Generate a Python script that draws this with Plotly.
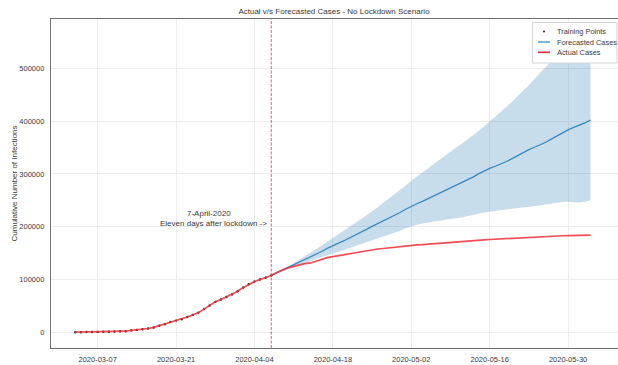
import pandas as pd
import plotly.graph_objects as go

# ---- data ----
actual_start = "2020-03-03"
actual_cases = [
    196, 262, 482, 670, 799, 1040, 1176, 1457, 1908, 2078,
    3675, 4585, 5795, 7272, 9257, 12327, 15320, 19848, 22213, 24873,
    29056, 32986, 37323, 43938, 50871, 57695, 62095, 66885, 71808, 77872,
    84794, 91159, 96092, 100123, 103374, 107663, 113296, 118181, 122171, 124908,
    127854, 130072, 131359, 134753, 137698, 141397, 143342, 145184, 147065, 148291,
    150648, 153129, 154999, 156513, 157770, 158758, 159912, 161539, 163009, 164077,
    164967, 165664, 166152, 167007, 168162, 169430, 170588, 171324, 171879, 172576,
    173171, 174098, 174478, 175233, 175752, 176369, 176551, 177778, 178473, 179021,
    179710, 179986, 180328, 180600, 181200, 181524, 182196, 182922, 183189, 183410,
    183594, 183879, 184121,
]
n_training = 36  # 2020-03-03 .. 2020-04-07

forecast_start = "2020-04-07"
forecast_mean = [
    108000, 113000, 118000, 122500, 127000, 132000, 137000, 142000, 147500, 153000,
    159000, 164500, 169000, 173500, 178500, 184000, 189500, 195000, 200500, 205500,
    210500, 215500, 221000, 227000, 233000, 239000, 243500, 248000, 253000, 258500,
    264000, 269500, 274500, 278500, 283000, 288000, 294000, 300000, 305500, 310500,
    314500, 318500, 323500, 329000, 335000, 341000, 346000, 350500, 355000, 360000,
    366000, 372000, 378000, 383500, 388000, 392000, 396500, 402000,
]
forecast_upper = [
    108000, 113500, 119000, 124500, 131000, 137500, 144000, 150500, 157000, 164000,
    172000, 179500, 186000, 193000, 200000, 207000, 214000, 221500, 229000, 237000,
    245000, 253000, 261000, 269500, 278000, 287000, 295000, 303000, 311000, 319000,
    327000, 335000, 343000, 350000, 357000, 364500, 372500, 381000, 390000, 399000,
    408000, 417000, 427000, 437000, 447000, 457000, 468000, 480000, 492000, 504000,
    514000, 523000, 531000, 539000, 546000, 552000, 558000, 565000,
]
forecast_lower = [
    108000, 112000, 116000, 119500, 123000, 127000, 131000, 135000, 139000, 142500,
    146000, 149000, 152500, 156000, 159500, 163000, 167000, 171000, 174500, 178000,
    181500, 185000, 188500, 192500, 197000, 201000, 203500, 206000, 208000, 210000,
    211500, 213000, 214500, 215500, 217500, 220000, 222500, 225000, 227000, 228500,
    229500, 231000, 232500, 234000, 235000, 236000, 237000, 238500, 240000, 242000,
    244000, 245500, 247000, 247500, 247000, 246000, 247500, 250000,
]
lockdown_date = "2020-04-07"
x_ticks = ["2020-03-07", "2020-03-21", "2020-04-04", "2020-04-18",
           "2020-05-02", "2020-05-16", "2020-05-30"]
y_ticks = [0, 100000, 200000, 300000, 400000, 500000]
legend_labels = ["Training Points", "Forecasted Cases", "Actual Cases"]

actual_dates = pd.date_range(actual_start, periods=len(actual_cases), freq="D")
forecast_dates = pd.date_range(forecast_start, periods=len(forecast_mean), freq="D")
train_dates = actual_dates[:n_training]
train_vals = actual_cases[:n_training]

FONT = "Liberation Sans, Arial, sans-serif"
TXT = "#383838"
BLUE = "#3b88bd"
RED = "#ef2f3a"

W, H = 618, 365
ML, MR, MT, MB = 51, 0, 19, 17
PW, PH = W - ML - MR, H - MT - MB


def px(xp):
    return (xp - ML) / PW


def py(yp):
    return (H - MB - yp) / PH


fig = go.Figure()

# confidence band
fig.add_trace(go.Scatter(x=forecast_dates, y=forecast_upper, mode="lines",
                         line=dict(width=0), showlegend=False, hoverinfo="skip"))
fig.add_trace(go.Scatter(x=forecast_dates, y=forecast_lower, mode="lines",
                         line=dict(width=0), fill="tonexty",
                         fillcolor="rgba(31,119,180,0.25)",
                         showlegend=False, hoverinfo="skip"))
# forecast line
fig.add_trace(go.Scatter(x=forecast_dates, y=forecast_mean, mode="lines",
                         name=legend_labels[1], showlegend=False,
                         line=dict(color=BLUE, width=1.3)))
# training points
fig.add_trace(go.Scatter(x=train_dates, y=train_vals, mode="markers",
                         name=legend_labels[0], showlegend=False,
                         marker=dict(color="#222222", size=2.4)))
# actual line
fig.add_trace(go.Scatter(x=actual_dates, y=actual_cases, mode="lines",
                         name=legend_labels[2], showlegend=False,
                         line=dict(color=RED, width=1.7), opacity=0.85))

fig.add_vline(x=pd.Timestamp(lockdown_date).timestamp() * 1000,
              line=dict(color="rgba(240,50,70,0.8)", width=1, dash="3px,1.5px"))

fig.add_annotation(x=lockdown_date, y=225400, xref="x", yref="y",
                   text="7-April-2020", showarrow=False,
                   xanchor="center", yanchor="middle", xshift=-62,
                   font=dict(family=FONT, size=8, color=TXT))
fig.add_annotation(x=lockdown_date, y=207000, xref="x", yref="y",
                   text="Eleven days after lockdown ->", showarrow=False,
                   xanchor="right", yanchor="middle", xshift=-2,
                   font=dict(family=FONT, size=8, color=TXT))

# axis titles as annotations
fig.add_annotation(x=0.5, y=-13 / PH, xref="paper", yref="paper",
                   text="Date", showarrow=False, xanchor="center", yanchor="top",
                   font=dict(family=FONT, size=8, color=TXT))
fig.add_annotation(x=px(14), y=0.5, xref="paper", yref="paper",
                   text="Cumulative Number of Infections", showarrow=False,
                   textangle=-90, xanchor="center", yanchor="middle",
                   font=dict(family=FONT, size=8, color=TXT))

# legend (drawn manually to match the compact matplotlib legend)
fig.add_shape(type="rect", xref="paper", yref="paper",
              x0=px(532.5), x1=px(617), y0=py(63), y1=py(22.5),
              fillcolor="white", line=dict(color="#d4d4d4", width=1), layer="above")
fig.add_shape(type="circle", xref="paper", yref="paper",
              x0=px(543), x1=px(545), y0=py(32.5), y1=py(30.5),
              fillcolor="#222222", line=dict(width=0), layer="above")
fig.add_shape(type="line", xref="paper", yref="paper",
              x0=px(538), x1=px(550), y0=py(42), y1=py(42),
              line=dict(color=BLUE, width=1.3), layer="above")
fig.add_shape(type="line", xref="paper", yref="paper",
              x0=px(538), x1=px(550), y0=py(52.3), y1=py(52.3),
              line=dict(color=RED, width=1.7), layer="above")
for lbl, yrow in zip(legend_labels, [31.5, 42, 52.3]):
    fig.add_annotation(x=px(554.5), y=py(yrow), xref="paper", yref="paper",
                       text=lbl, showarrow=False, xanchor="left", yanchor="middle",
                       font=dict(family=FONT, size=7.4, color=TXT))

fig.update_layout(
    width=W, height=H,
    margin=dict(l=ML, r=MR, t=MT, b=MB),
    paper_bgcolor="white", plot_bgcolor="white",
    font=dict(family=FONT, size=8, color=TXT),
    title=dict(text="Actual v/s Forecasted Cases - No Lockdown Scenario",
               x=334 / W, xanchor="center", xref="container",
               y=1 - 11.5 / H, yanchor="middle", yref="container",
               font=dict(family=FONT, size=8, color=TXT)),
    showlegend=False,
    xaxis=dict(range=["2020-02-27 16:00", "2020-06-07 22:00"],
               tickvals=x_ticks, ticktext=x_ticks,
               showgrid=True, gridcolor="#ececec", gridwidth=1,
               showline=True, linecolor="#707070", linewidth=1.2, mirror=True,
               ticks="outside", ticklen=4, tickcolor="rgba(0,0,0,0)",
               tickfont=dict(family=FONT, size=7.5, color=TXT),
               zeroline=False),
    yaxis=dict(range=[-29700, 593400],
               tickvals=y_ticks, ticktext=[str(v) for v in y_ticks],
               showgrid=True, gridcolor="#ececec", gridwidth=1,
               showline=True, linecolor="#707070", linewidth=1.2,
               ticks="outside", ticklen=4, tickcolor="rgba(0,0,0,0)",
               tickfont=dict(family=FONT, size=7.5, color=TXT),
               zeroline=False),
)

fig.write_html("out.html")
